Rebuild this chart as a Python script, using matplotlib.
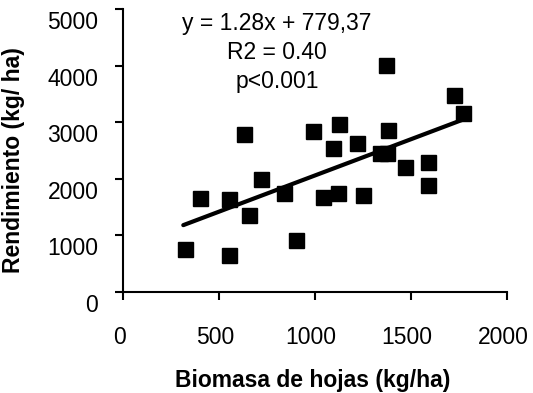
import numpy as np
import matplotlib
matplotlib.use("Agg")
import matplotlib.pyplot as plt
from matplotlib.transforms import ScaledTranslation

plt.rcParams['font.family'] = ['Liberation Sans', 'DejaVu Sans']

# Data
biomasa = [323, 401, 552, 552, 632, 658, 719, 839, 901, 991,
           1043, 1120, 1095, 1127, 1220, 1248, 1339, 1377, 1370, 1379,
           1469, 1590, 1590, 1724, 1769]
rendimiento = [759, 1653, 1641, 648, 2783, 1359, 1989, 1752, 918, 2841,
               1670, 1750, 2553, 2977, 2641, 1712, 2447, 2447, 4018, 2859,
               2211, 2299, 1888, 3489, 3164]
slope = 1.28
intercept = 779.37
eq_lines = ["y = 1.28x + 779,37", "R2 = 0.40", "p<0.001"]
xticks = [0, 500, 1000, 1500, 2000]
yticks = [0, 1000, 2000, 3000, 4000, 5000]
xlabel = "Biomasa de hojas (kg/ha)"
ylabel = "Rendimiento (kg/ ha)"

fs = 16.5
fig = plt.figure(figsize=(5.33, 3.93), dpi=100)
ax = fig.add_axes([123/533, 1-292/393, (507-123)/533, (292-9)/393])

ax.plot(biomasa, rendimiento, linestyle='none', marker='s', markersize=10.8,
        color='black', zorder=3)
xl = np.array([min(biomasa) - 9, max(biomasa)])
ax.plot(xl, slope * xl + intercept, color='black', linewidth=3.0,
        solid_capstyle='round', zorder=2)

ax.set_xlim(0, 2000)
ax.set_ylim(0, 5000)
ax.set_xticks(xticks)
ax.set_yticks(yticks)
ax.set_xticklabels([str(v) for v in xticks])
ax.set_yticklabels([str(v) for v in yticks])

for s in ['top', 'right']:
    ax.spines[s].set_visible(False)
for s in ['left', 'bottom']:
    ax.spines[s].set_linewidth(1.5)
ax.tick_params(axis='both', direction='out', length=5.8, width=1.5,
               labelsize=fs, colors='black')
ax.tick_params(axis='y', pad=12)
ax.tick_params(axis='x', pad=19)

for lab in ax.get_yticklabels():
    lab.set_transform(lab.get_transform() + ScaledTranslation(0, -0.11, fig.dpi_scale_trans))
for lab in ax.get_xticklabels():
    lab.set_transform(lab.get_transform() + ScaledTranslation(-0.04, 0, fig.dpi_scale_trans))

ax.set_xlabel(xlabel, fontsize=fs, fontweight='bold', va='center')
ax.xaxis.set_label_coords(0.495, -0.311)
ax.set_ylabel(ylabel, fontsize=fs, fontweight='bold', va='center')
ax.yaxis.set_label_coords(-0.284, 0.466)

ys = [4747, 4235, 3723]
for t, yv in zip(eq_lines, ys):
    ax.text(802, yv, t, fontsize=fs, ha='center', va='center')

fig.savefig("out.png", dpi=100)
